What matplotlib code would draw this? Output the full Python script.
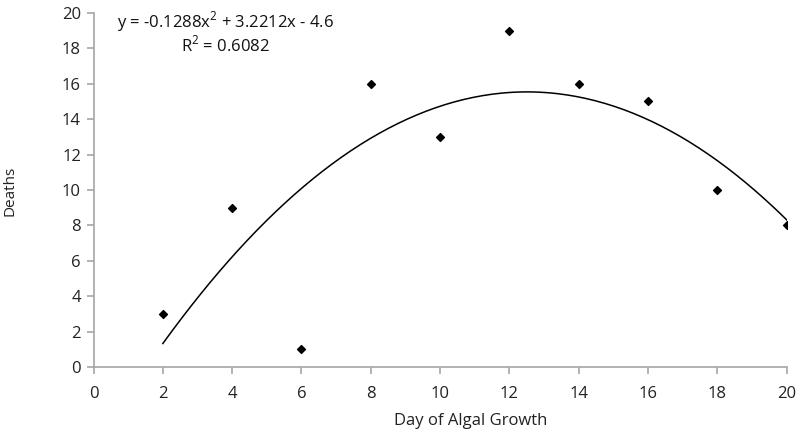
import numpy as np
import matplotlib
matplotlib.use("Agg")
import matplotlib.pyplot as plt

days = [2, 4, 6, 8, 10, 12, 14, 16, 18, 20]
deaths = [3, 9, 1, 16, 13, 19, 16, 15, 10, 8]
x_ticks = [0, 2, 4, 6, 8, 10, 12, 14, 16, 18, 20]
y_ticks = [0, 2, 4, 6, 8, 10, 12, 14, 16, 18, 20]
eq_text = "y = -0.1288x$^2$ + 3.2212x - 4.6"
r2_text = "R$^2$ = 0.6082"

plt.rcParams['font.family'] = ['Open Sans', 'DejaVu Sans']
plt.rcParams['mathtext.fontset'] = 'custom'
plt.rcParams['mathtext.rm'] = 'Open Sans'

fig = plt.figure(figsize=(8.02, 4.33), dpi=100)
ax = fig.add_axes([0.1166, 0.1524, 0.981 - 0.1166, 0.970 - 0.1524])

coef = np.polyfit(days, deaths, 2)
xs = np.linspace(min(days), max(days), 200)
ax.plot(xs, np.polyval(coef, xs), color='black', lw=1.1)
ax.scatter(days, deaths, marker='D', s=16, color='black', zorder=3)

ax.set_xlim(0, 20)
ax.set_ylim(0, 20)
ax.set_xticks(x_ticks)
ax.set_yticks(y_ticks)
for s in ['top', 'right']:
    ax.spines[s].set_visible(False)
for s in ['left', 'bottom']:
    ax.spines[s].set_color('#a6a6a6')
    ax.spines[s].set_linewidth(1.2)
ax.tick_params(direction='out', length=5, width=1.2, color='#a6a6a6',
               labelsize=12, labelcolor='#222222', pad=4)
ax.tick_params(axis='x', pad=9)

ax.set_xlabel("Day of Algal Growth", fontsize=12, color='#222222', va='center')
ax.xaxis.set_label_coords(0.544, -0.152)
fig.text(0.012, 0.56, "Deaths", rotation=90, fontsize=11, color='#222222',
         ha='center', va='center')

ax.text(0.19, 0.975, eq_text, transform=ax.transAxes, fontsize=12,
        ha='center', va='center', color='#111111')
ax.text(0.19, 0.91, r2_text, transform=ax.transAxes, fontsize=12,
        ha='center', va='center', color='#111111')

fig.savefig("out.png", dpi=100)
